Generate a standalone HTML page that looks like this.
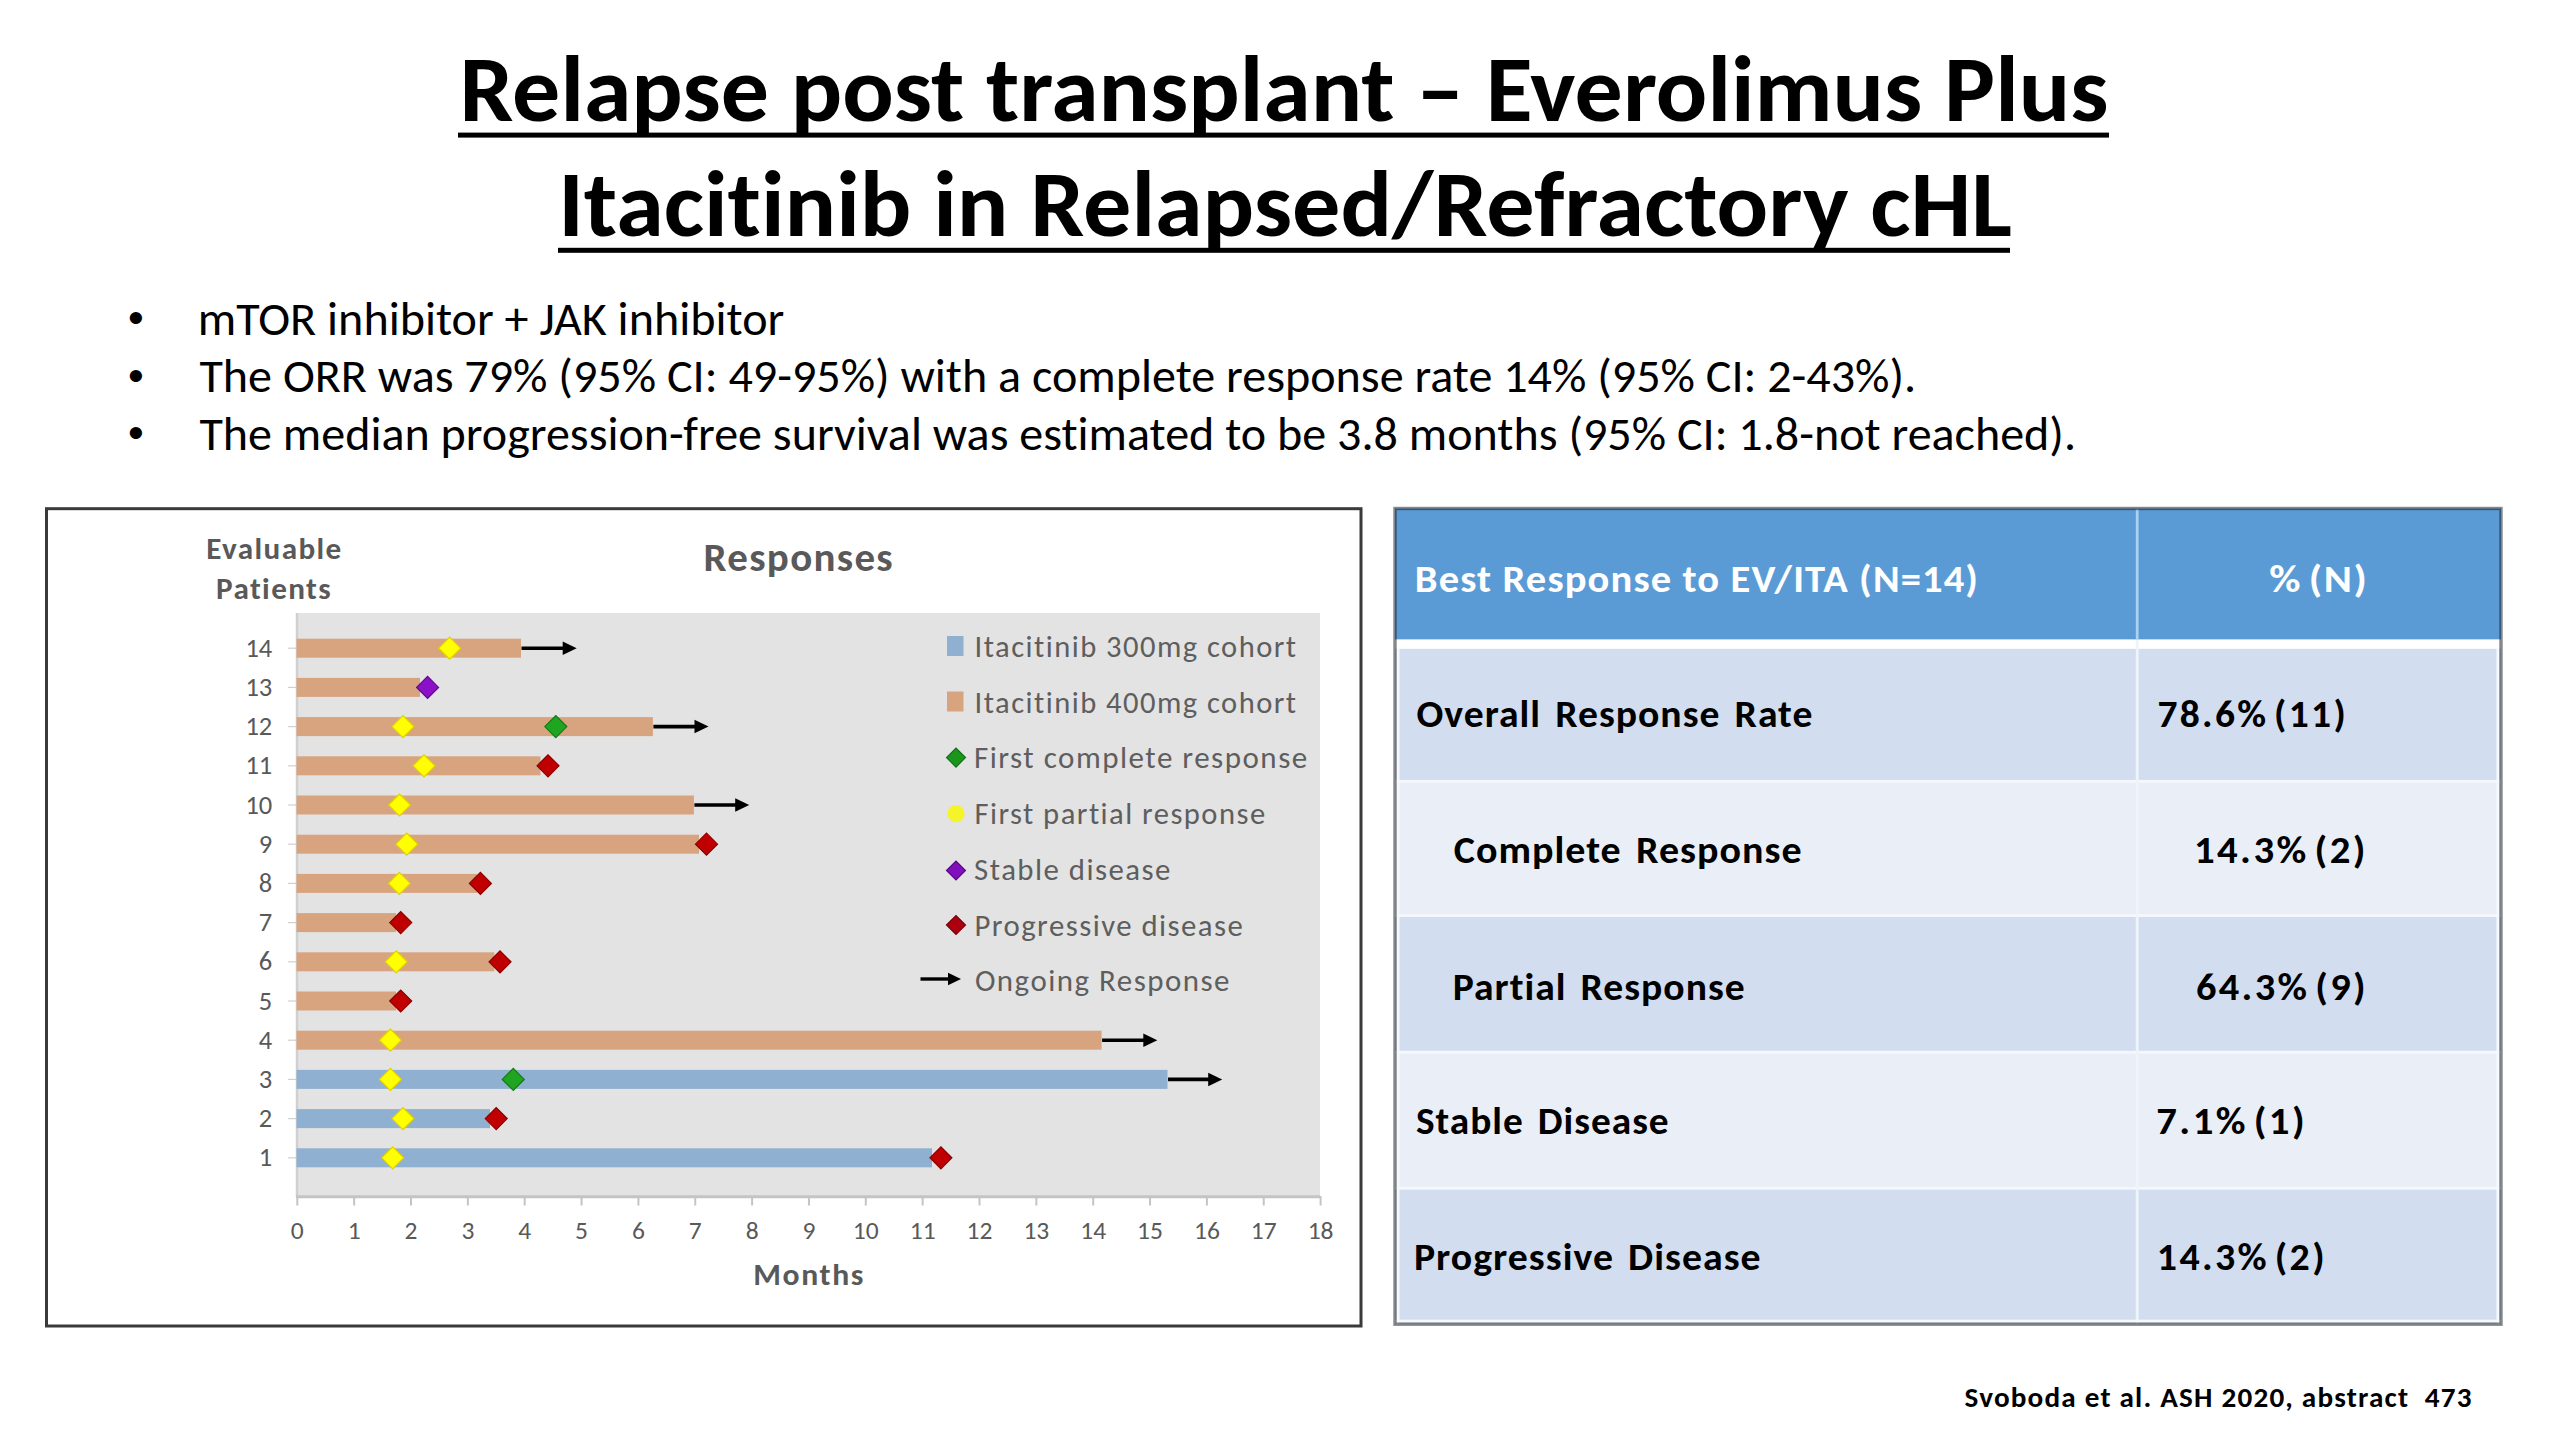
<!DOCTYPE html>
<html><head><meta charset="utf-8"><title>Relapse post transplant – Everolimus Plus Itacitinib</title>
<style>
html,body{margin:0;padding:0;background:#fff;}
body{width:100vw;height:100vh;min-width:2560px;min-height:1440px;overflow:hidden;}
svg{display:block;}
text{font-family:Carlito, 'Liberation Sans', Arial, sans-serif;font-variant-ligatures:none;font-feature-settings:'liga' 0,'clig' 0;white-space:pre;}
</style></head><body>
<svg width="2560" height="1440" viewBox="0 0 2560 1440" preserveAspectRatio="xMidYMid meet">
<rect x="0" y="0" width="2560" height="1440" fill="#fff"/>
<rect x="458.00" y="132.60" width="1651.00" height="5.00" fill="#000" />
<rect x="558.00" y="247.80" width="1452.00" height="5.00" fill="#000" />
<rect x="46.50" y="508.70" width="1314.50" height="817.30" fill="#fff" stroke="#3a3a3a" stroke-width="3"/>
<rect x="296.50" y="613.00" width="1023.50" height="584.00" fill="#e3e3e3" />
<line x1="297.00" y1="613.00" x2="297.00" y2="1197.00" stroke="#d0d0d0" stroke-width="2.5" />
<line x1="296.00" y1="1196.80" x2="1320.00" y2="1196.80" stroke="#c4c4c4" stroke-width="3" />
<line x1="297.30" y1="1196.00" x2="297.30" y2="1205.50" stroke="#c4c4c4" stroke-width="2" />
<line x1="354.15" y1="1196.00" x2="354.15" y2="1205.50" stroke="#c4c4c4" stroke-width="2" />
<line x1="411.00" y1="1196.00" x2="411.00" y2="1205.50" stroke="#c4c4c4" stroke-width="2" />
<line x1="467.85" y1="1196.00" x2="467.85" y2="1205.50" stroke="#c4c4c4" stroke-width="2" />
<line x1="524.70" y1="1196.00" x2="524.70" y2="1205.50" stroke="#c4c4c4" stroke-width="2" />
<line x1="581.55" y1="1196.00" x2="581.55" y2="1205.50" stroke="#c4c4c4" stroke-width="2" />
<line x1="638.40" y1="1196.00" x2="638.40" y2="1205.50" stroke="#c4c4c4" stroke-width="2" />
<line x1="695.25" y1="1196.00" x2="695.25" y2="1205.50" stroke="#c4c4c4" stroke-width="2" />
<line x1="752.10" y1="1196.00" x2="752.10" y2="1205.50" stroke="#c4c4c4" stroke-width="2" />
<line x1="808.95" y1="1196.00" x2="808.95" y2="1205.50" stroke="#c4c4c4" stroke-width="2" />
<line x1="865.80" y1="1196.00" x2="865.80" y2="1205.50" stroke="#c4c4c4" stroke-width="2" />
<line x1="922.65" y1="1196.00" x2="922.65" y2="1205.50" stroke="#c4c4c4" stroke-width="2" />
<line x1="979.50" y1="1196.00" x2="979.50" y2="1205.50" stroke="#c4c4c4" stroke-width="2" />
<line x1="1036.35" y1="1196.00" x2="1036.35" y2="1205.50" stroke="#c4c4c4" stroke-width="2" />
<line x1="1093.20" y1="1196.00" x2="1093.20" y2="1205.50" stroke="#c4c4c4" stroke-width="2" />
<line x1="1150.05" y1="1196.00" x2="1150.05" y2="1205.50" stroke="#c4c4c4" stroke-width="2" />
<line x1="1206.90" y1="1196.00" x2="1206.90" y2="1205.50" stroke="#c4c4c4" stroke-width="2" />
<line x1="1263.75" y1="1196.00" x2="1263.75" y2="1205.50" stroke="#c4c4c4" stroke-width="2" />
<line x1="1320.60" y1="1196.00" x2="1320.60" y2="1205.50" stroke="#c4c4c4" stroke-width="2" />
<line x1="288.00" y1="1157.80" x2="296.00" y2="1157.80" stroke="#d0d0d0" stroke-width="1.2" />
<line x1="288.00" y1="1118.60" x2="296.00" y2="1118.60" stroke="#d0d0d0" stroke-width="1.2" />
<line x1="288.00" y1="1079.40" x2="296.00" y2="1079.40" stroke="#d0d0d0" stroke-width="1.2" />
<line x1="288.00" y1="1040.20" x2="296.00" y2="1040.20" stroke="#d0d0d0" stroke-width="1.2" />
<line x1="288.00" y1="1001.00" x2="296.00" y2="1001.00" stroke="#d0d0d0" stroke-width="1.2" />
<line x1="288.00" y1="961.80" x2="296.00" y2="961.80" stroke="#d0d0d0" stroke-width="1.2" />
<line x1="288.00" y1="922.60" x2="296.00" y2="922.60" stroke="#d0d0d0" stroke-width="1.2" />
<line x1="288.00" y1="883.40" x2="296.00" y2="883.40" stroke="#d0d0d0" stroke-width="1.2" />
<line x1="288.00" y1="844.20" x2="296.00" y2="844.20" stroke="#d0d0d0" stroke-width="1.2" />
<line x1="288.00" y1="805.00" x2="296.00" y2="805.00" stroke="#d0d0d0" stroke-width="1.2" />
<line x1="288.00" y1="765.80" x2="296.00" y2="765.80" stroke="#d0d0d0" stroke-width="1.2" />
<line x1="288.00" y1="726.60" x2="296.00" y2="726.60" stroke="#d0d0d0" stroke-width="1.2" />
<line x1="288.00" y1="687.40" x2="296.00" y2="687.40" stroke="#d0d0d0" stroke-width="1.2" />
<line x1="288.00" y1="648.20" x2="296.00" y2="648.20" stroke="#d0d0d0" stroke-width="1.2" />
<rect x="296.50" y="638.70" width="224.50" height="19.00" fill="#d8a47f" />
<rect x="296.50" y="677.90" width="123.50" height="19.00" fill="#d8a47f" />
<rect x="296.50" y="717.10" width="356.40" height="19.00" fill="#d8a47f" />
<rect x="296.50" y="756.30" width="244.00" height="19.00" fill="#d8a47f" />
<rect x="296.50" y="795.50" width="397.40" height="19.00" fill="#d8a47f" />
<rect x="296.50" y="834.70" width="402.50" height="19.00" fill="#d8a47f" />
<rect x="296.50" y="873.90" width="180.50" height="19.00" fill="#d8a47f" />
<rect x="296.50" y="913.10" width="99.50" height="19.00" fill="#d8a47f" />
<rect x="296.50" y="952.30" width="197.90" height="19.00" fill="#d8a47f" />
<rect x="296.50" y="991.50" width="99.50" height="19.00" fill="#d8a47f" />
<rect x="296.50" y="1030.70" width="805.10" height="19.00" fill="#d8a47f" />
<rect x="296.50" y="1069.90" width="871.00" height="19.00" fill="#8fb0d0" />
<rect x="296.50" y="1109.10" width="193.50" height="19.00" fill="#8fb0d0" />
<rect x="296.50" y="1148.30" width="635.50" height="19.00" fill="#8fb0d0" />
<line x1="521.50" y1="648.20" x2="563.70" y2="648.20" stroke="#000" stroke-width="3.6"/>
<path d="M562.70 641.45L576.70 648.20L562.70 654.95Z" fill="#000"/>
<line x1="653.40" y1="726.60" x2="695.50" y2="726.60" stroke="#000" stroke-width="3.6"/>
<path d="M694.50 719.85L708.50 726.60L694.50 733.35Z" fill="#000"/>
<line x1="694.40" y1="805.00" x2="736.20" y2="805.00" stroke="#000" stroke-width="3.6"/>
<path d="M735.20 798.25L749.20 805.00L735.20 811.75Z" fill="#000"/>
<line x1="1102.10" y1="1040.20" x2="1144.30" y2="1040.20" stroke="#000" stroke-width="3.6"/>
<path d="M1143.30 1033.45L1157.30 1040.20L1143.30 1046.95Z" fill="#000"/>
<line x1="1168.00" y1="1079.40" x2="1209.20" y2="1079.40" stroke="#000" stroke-width="3.6"/>
<path d="M1208.20 1072.65L1222.20 1079.40L1208.20 1086.15Z" fill="#000"/>
<path d="M438.70 648.20L449.70 637.20L460.70 648.20L449.70 659.20Z" fill="#ffff00" stroke="#e0d000" stroke-width="1.2"/>
<path d="M416.60 687.40L427.60 676.40L438.60 687.40L427.60 698.40Z" fill="#8c10c8" stroke="#5e0a8c" stroke-width="1.2"/>
<path d="M391.90 726.60L402.90 715.60L413.90 726.60L402.90 737.60Z" fill="#ffff00" stroke="#e0d000" stroke-width="1.2"/>
<path d="M544.80 726.60L555.80 715.60L566.80 726.60L555.80 737.60Z" fill="#1fa51f" stroke="#147a14" stroke-width="1.2"/>
<path d="M413.00 765.80L424.00 754.80L435.00 765.80L424.00 776.80Z" fill="#ffff00" stroke="#e0d000" stroke-width="1.2"/>
<path d="M537.00 765.80L548.00 754.80L559.00 765.80L548.00 776.80Z" fill="#c00000" stroke="#8a0000" stroke-width="1.2"/>
<path d="M388.50 805.00L399.50 794.00L410.50 805.00L399.50 816.00Z" fill="#ffff00" stroke="#e0d000" stroke-width="1.2"/>
<path d="M395.75 844.20L406.75 833.20L417.75 844.20L406.75 855.20Z" fill="#ffff00" stroke="#e0d000" stroke-width="1.2"/>
<path d="M695.50 844.20L706.50 833.20L717.50 844.20L706.50 855.20Z" fill="#c00000" stroke="#8a0000" stroke-width="1.2"/>
<path d="M388.30 883.40L399.30 872.40L410.30 883.40L399.30 894.40Z" fill="#ffff00" stroke="#e0d000" stroke-width="1.2"/>
<path d="M469.40 883.40L480.40 872.40L491.40 883.40L480.40 894.40Z" fill="#c00000" stroke="#8a0000" stroke-width="1.2"/>
<path d="M389.70 922.60L400.70 911.60L411.70 922.60L400.70 933.60Z" fill="#c00000" stroke="#8a0000" stroke-width="1.2"/>
<path d="M385.20 961.80L396.20 950.80L407.20 961.80L396.20 972.80Z" fill="#ffff00" stroke="#e0d000" stroke-width="1.2"/>
<path d="M489.00 961.80L500.00 950.80L511.00 961.80L500.00 972.80Z" fill="#c00000" stroke="#8a0000" stroke-width="1.2"/>
<path d="M389.70 1001.00L400.70 990.00L411.70 1001.00L400.70 1012.00Z" fill="#c00000" stroke="#8a0000" stroke-width="1.2"/>
<path d="M379.40 1040.20L390.40 1029.20L401.40 1040.20L390.40 1051.20Z" fill="#ffff00" stroke="#e0d000" stroke-width="1.2"/>
<path d="M379.40 1079.40L390.40 1068.40L401.40 1079.40L390.40 1090.40Z" fill="#ffff00" stroke="#e0d000" stroke-width="1.2"/>
<path d="M502.30 1079.40L513.30 1068.40L524.30 1079.40L513.30 1090.40Z" fill="#1fa51f" stroke="#147a14" stroke-width="1.2"/>
<path d="M391.90 1118.60L402.90 1107.60L413.90 1118.60L402.90 1129.60Z" fill="#ffff00" stroke="#e0d000" stroke-width="1.2"/>
<path d="M485.20 1118.60L496.20 1107.60L507.20 1118.60L496.20 1129.60Z" fill="#c00000" stroke="#8a0000" stroke-width="1.2"/>
<path d="M381.70 1157.80L392.70 1146.80L403.70 1157.80L392.70 1168.80Z" fill="#ffff00" stroke="#e0d000" stroke-width="1.2"/>
<path d="M929.90 1157.80L940.90 1146.80L951.90 1157.80L940.90 1168.80Z" fill="#c00000" stroke="#8a0000" stroke-width="1.2"/>
<rect x="947.00" y="636.00" width="16.50" height="20.00" fill="#8fb0d0" />
<rect x="947.00" y="691.50" width="16.50" height="20.00" fill="#d8a47f" />
<path d="M946.50 757.60L956.00 748.10L965.50 757.60L956.00 767.10Z" fill="#1a961a" stroke="#12701a" stroke-width="1.2"/>
<circle cx="956" cy="813.6" r="8.6" fill="#f4f428"/>
<path d="M946.50 870.50L956.00 861.00L965.50 870.50L956.00 880.00Z" fill="#8010bc" stroke="#5a0a86" stroke-width="1.2"/>
<path d="M946.50 925.00L956.00 915.50L965.50 925.00L956.00 934.50Z" fill="#ac0010" stroke="#7a0008" stroke-width="1.2"/>
<line x1="920.50" y1="979.00" x2="949.00" y2="979.00" stroke="#000" stroke-width="3.4"/>
<path d="M948.00 972.75L961.00 979.00L948.00 985.25Z" fill="#000"/>
<rect x="1395.00" y="508.50" width="1106.00" height="131.10" fill="#5b9bd5" />
<rect x="1395.00" y="648.60" width="1106.00" height="132.70" fill="#d2deef" />
<rect x="1395.00" y="781.30" width="1106.00" height="134.30" fill="#eaeff7" />
<rect x="1395.00" y="915.60" width="1106.00" height="136.60" fill="#d2deef" />
<rect x="1395.00" y="1052.20" width="1106.00" height="136.10" fill="#eaeff7" />
<rect x="1395.00" y="1188.30" width="1106.00" height="135.90" fill="#d2deef" />
<rect x="1395.00" y="639.60" width="1106.00" height="9.00" fill="#fff" />
<rect x="1395.00" y="779.90" width="1106.00" height="2.80" fill="#f4f8fc" />
<rect x="1395.00" y="914.20" width="1106.00" height="2.80" fill="#f4f8fc" />
<rect x="1395.00" y="1050.80" width="1106.00" height="2.80" fill="#f4f8fc" />
<rect x="1395.00" y="1186.90" width="1106.00" height="2.80" fill="#f4f8fc" />
<rect x="2135.80" y="639.60" width="2.80" height="684.60" fill="#eef4fa" />
<rect x="2135.80" y="508.50" width="2.80" height="131.10" fill="#a8d2f0" />
<rect x="1396.50" y="648.60" width="3.00" height="675.60" fill="#f7fafd" />
<rect x="2496.50" y="648.60" width="3.00" height="675.60" fill="#f7fafd" />
<rect x="1395.00" y="1319.70" width="1106.00" height="3.00" fill="#f7fafd" />
<rect x="1395.00" y="508.50" width="1106.00" height="815.70" fill="none" stroke="rgba(20,26,36,0.52)" stroke-width="3.4"/>
<text x="128.1" y="332.90000000000003" font-size="45" style="font-family:'Liberation Sans', Arial, sans-serif">•</text><text x="128.1" y="390.6" font-size="45" style="font-family:'Liberation Sans', Arial, sans-serif">•</text><text x="128.1" y="448.1" font-size="45" style="font-family:'Liberation Sans', Arial, sans-serif">•</text>
<text xml:space="preserve" id="t-title1" x="459.5" y="120.5" font-size="94" font-weight="bold" fill="#000" textLength="1649.0" lengthAdjust="spacingAndGlyphs">Relapse post transplant – Everolimus Plus</text>
<text xml:space="preserve" id="t-title2" x="558.15" y="236.4" font-size="94" font-weight="bold" fill="#000" textLength="1453.75" lengthAdjust="spacingAndGlyphs">Itacitinib in Relapsed/Refractory cHL</text>
<text xml:space="preserve" id="t-bul1" x="197.8" y="334.6" font-size="47" fill="#000" textLength="586.45" lengthAdjust="spacingAndGlyphs">mTOR inhibitor + JAK inhibitor</text>
<text xml:space="preserve" id="t-bul2" x="199.4" y="392.3" font-size="47" fill="#000" textLength="1716.79" lengthAdjust="spacingAndGlyphs">The ORR was 79% (95% CI: 49-95%) with a complete response rate 14% (95% CI: 2-43%).</text>
<text xml:space="preserve" id="t-bul3" x="199.4" y="449.8" font-size="47" fill="#000" textLength="1876.65" lengthAdjust="spacingAndGlyphs">The median progression-free survival was estimated to be 3.8 months (95% CI: 1.8-not reached).</text>
<text xml:space="preserve" id="t-Evaluable" x="206.3" y="558.5" font-size="31" font-weight="bold" fill="#595959" textLength="136.35" lengthAdjust="spacingAndGlyphs" style="letter-spacing:1.4px;word-spacing:0px">Evaluable</text>
<text xml:space="preserve" id="t-Patients" x="216.0" y="598.7" font-size="31" font-weight="bold" fill="#595959" textLength="116.14" lengthAdjust="spacingAndGlyphs" style="letter-spacing:1.4px;word-spacing:0px">Patients</text>
<text xml:space="preserve" id="t-Responses" x="703.5" y="570.6" font-size="41" font-weight="bold" fill="#595959" textLength="190.48" lengthAdjust="spacingAndGlyphs" style="letter-spacing:1.3px;word-spacing:0px">Responses</text>
<text xml:space="preserve" id="t-Months" x="753.2" y="1284.6" font-size="30.8" font-weight="bold" fill="#595959" textLength="111.88" lengthAdjust="spacingAndGlyphs" style="letter-spacing:1.6px;word-spacing:0px">Months</text>
<text xml:space="preserve" x="297.3" y="1239.3" font-size="25.5" fill="#595959" text-anchor="middle">0</text>
<text xml:space="preserve" x="354.15000000000003" y="1239.3" font-size="25.5" fill="#595959" text-anchor="middle">1</text>
<text xml:space="preserve" x="411.0" y="1239.3" font-size="25.5" fill="#595959" text-anchor="middle">2</text>
<text xml:space="preserve" x="467.85" y="1239.3" font-size="25.5" fill="#595959" text-anchor="middle">3</text>
<text xml:space="preserve" x="524.7" y="1239.3" font-size="25.5" fill="#595959" text-anchor="middle">4</text>
<text xml:space="preserve" x="581.55" y="1239.3" font-size="25.5" fill="#595959" text-anchor="middle">5</text>
<text xml:space="preserve" x="638.4000000000001" y="1239.3" font-size="25.5" fill="#595959" text-anchor="middle">6</text>
<text xml:space="preserve" x="695.25" y="1239.3" font-size="25.5" fill="#595959" text-anchor="middle">7</text>
<text xml:space="preserve" x="752.1" y="1239.3" font-size="25.5" fill="#595959" text-anchor="middle">8</text>
<text xml:space="preserve" x="808.95" y="1239.3" font-size="25.5" fill="#595959" text-anchor="middle">9</text>
<text xml:space="preserve" x="865.8" y="1239.3" font-size="25.5" fill="#595959" text-anchor="middle">10</text>
<text xml:space="preserve" x="922.6500000000001" y="1239.3" font-size="25.5" fill="#595959" text-anchor="middle">11</text>
<text xml:space="preserve" x="979.5" y="1239.3" font-size="25.5" fill="#595959" text-anchor="middle">12</text>
<text xml:space="preserve" x="1036.3500000000001" y="1239.3" font-size="25.5" fill="#595959" text-anchor="middle">13</text>
<text xml:space="preserve" x="1093.2" y="1239.3" font-size="25.5" fill="#595959" text-anchor="middle">14</text>
<text xml:space="preserve" x="1150.05" y="1239.3" font-size="25.5" fill="#595959" text-anchor="middle">15</text>
<text xml:space="preserve" x="1206.9" y="1239.3" font-size="25.5" fill="#595959" text-anchor="middle">16</text>
<text xml:space="preserve" x="1263.75" y="1239.3" font-size="25.5" fill="#595959" text-anchor="middle">17</text>
<text xml:space="preserve" x="1320.6000000000001" y="1239.3" font-size="25.5" fill="#595959" text-anchor="middle">18</text>
<text xml:space="preserve" x="272.3" y="1166.3999999999999" font-size="26.5" fill="#595959" text-anchor="end">1</text>
<text xml:space="preserve" x="272.3" y="1127.1999999999998" font-size="26.5" fill="#595959" text-anchor="end">2</text>
<text xml:space="preserve" x="272.3" y="1087.9999999999998" font-size="26.5" fill="#595959" text-anchor="end">3</text>
<text xml:space="preserve" x="272.3" y="1048.8" font-size="26.5" fill="#595959" text-anchor="end">4</text>
<text xml:space="preserve" x="272.3" y="1009.6" font-size="26.5" fill="#595959" text-anchor="end">5</text>
<text xml:space="preserve" x="272.3" y="970.4" font-size="26.5" fill="#595959" text-anchor="end">6</text>
<text xml:space="preserve" x="272.3" y="931.1999999999999" font-size="26.5" fill="#595959" text-anchor="end">7</text>
<text xml:space="preserve" x="272.3" y="891.9999999999999" font-size="26.5" fill="#595959" text-anchor="end">8</text>
<text xml:space="preserve" x="272.3" y="852.8" font-size="26.5" fill="#595959" text-anchor="end">9</text>
<text xml:space="preserve" x="272.3" y="813.6" font-size="26.5" fill="#595959" text-anchor="end">10</text>
<text xml:space="preserve" x="272.3" y="774.4" font-size="26.5" fill="#595959" text-anchor="end">11</text>
<text xml:space="preserve" x="272.3" y="735.1999999999999" font-size="26.5" fill="#595959" text-anchor="end">12</text>
<text xml:space="preserve" x="272.3" y="695.9999999999999" font-size="26.5" fill="#595959" text-anchor="end">13</text>
<text xml:space="preserve" x="272.3" y="656.8" font-size="26.5" fill="#595959" text-anchor="end">14</text>
<text xml:space="preserve" id="t-leg1" x="974.6" y="657.0" font-size="30.5" fill="#5e5e5e" textLength="322.98" lengthAdjust="spacingAndGlyphs" style="letter-spacing:1.45px;word-spacing:0px">Itacitinib 300mg cohort</text>
<text xml:space="preserve" id="t-leg2" x="974.6" y="712.5" font-size="30.5" fill="#5e5e5e" textLength="322.98" lengthAdjust="spacingAndGlyphs" style="letter-spacing:1.45px;word-spacing:0px">Itacitinib 400mg cohort</text>
<text xml:space="preserve" id="t-leg3" x="974.0" y="768.0" font-size="30.5" fill="#5e5e5e" textLength="334.69" lengthAdjust="spacingAndGlyphs" style="letter-spacing:1.45px;word-spacing:0px">First complete response</text>
<text xml:space="preserve" id="t-leg4" x="974.4" y="823.6" font-size="30.5" fill="#5e5e5e" textLength="292.19" lengthAdjust="spacingAndGlyphs" style="letter-spacing:1.45px;word-spacing:0px">First partial response</text>
<text xml:space="preserve" id="t-leg5" x="974.1" y="879.8" font-size="30.5" fill="#5e5e5e" textLength="197.82" lengthAdjust="spacingAndGlyphs" style="letter-spacing:1.45px;word-spacing:0px">Stable disease</text>
<text xml:space="preserve" id="t-leg6" x="974.4" y="936.1" font-size="30.5" fill="#5e5e5e" textLength="269.96" lengthAdjust="spacingAndGlyphs" style="letter-spacing:1.45px;word-spacing:0px">Progressive disease</text>
<text xml:space="preserve" id="t-leg7" x="974.9" y="990.8" font-size="30.5" fill="#5e5e5e" textLength="256.1" lengthAdjust="spacingAndGlyphs" style="letter-spacing:1.45px;word-spacing:0px">Ongoing Response</text>
<text xml:space="preserve" id="t-hdr1" x="1414.8" y="591.6" font-size="39" font-weight="bold" fill="#fff" textLength="564.34" lengthAdjust="spacingAndGlyphs" style="letter-spacing:1.1px;word-spacing:0px">Best Response to EV/ITA (N=14)</text>
<text xml:space="preserve" id="t-hdr2" x="2269.3" y="591.6" font-size="39" font-weight="bold" fill="#fff" textLength="99.05" lengthAdjust="spacingAndGlyphs" style="letter-spacing:1.4px;word-spacing:-4px">% (N)</text>
<text xml:space="preserve" id="t-r1a" x="1416.5" y="726.5" font-size="39" font-weight="bold" fill="#000" textLength="396.87" lengthAdjust="spacingAndGlyphs" style="letter-spacing:1.0px;word-spacing:4.0px">Overall Response Rate</text>
<text xml:space="preserve" id="t-r1b" x="2157.4" y="726.5" font-size="39" font-weight="bold" fill="#000" textLength="190.65" lengthAdjust="spacingAndGlyphs" style="letter-spacing:2.3px;word-spacing:-5.5px">78.6% (11)</text>
<text xml:space="preserve" id="t-r2a" x="1453.7" y="862.7" font-size="39" font-weight="bold" fill="#000" textLength="349.0" lengthAdjust="spacingAndGlyphs" style="letter-spacing:1.0px;word-spacing:4.0px">Complete Response</text>
<text xml:space="preserve" id="t-r2b" x="2193.9" y="862.7" font-size="39" font-weight="bold" fill="#000" textLength="174.03" lengthAdjust="spacingAndGlyphs" style="letter-spacing:2.3px;word-spacing:-5.5px">14.3% (2)</text>
<text xml:space="preserve" id="t-r3a" x="1452.7" y="999.5" font-size="39" font-weight="bold" fill="#000" textLength="293.0" lengthAdjust="spacingAndGlyphs" style="letter-spacing:1.0px;word-spacing:4.0px">Partial Response</text>
<text xml:space="preserve" id="t-r3b" x="2195.9" y="999.5" font-size="39" font-weight="bold" fill="#000" textLength="172.03" lengthAdjust="spacingAndGlyphs" style="letter-spacing:2.3px;word-spacing:-5.5px">64.3% (9)</text>
<text xml:space="preserve" id="t-r4a" x="1415.9" y="1133.8" font-size="39" font-weight="bold" fill="#000" textLength="253.79" lengthAdjust="spacingAndGlyphs" style="letter-spacing:1.0px;word-spacing:4.0px">Stable Disease</text>
<text xml:space="preserve" id="t-r4b" x="2156.3" y="1133.8" font-size="39" font-weight="bold" fill="#000" textLength="150.77" lengthAdjust="spacingAndGlyphs" style="letter-spacing:2.3px;word-spacing:-5.5px">7.1% (1)</text>
<text xml:space="preserve" id="t-r5a" x="1413.9" y="1269.7" font-size="39" font-weight="bold" fill="#000" textLength="347.7" lengthAdjust="spacingAndGlyphs" style="letter-spacing:1.0px;word-spacing:4.0px">Progressive Disease</text>
<text xml:space="preserve" id="t-r5b" x="2156.8" y="1269.7" font-size="39" font-weight="bold" fill="#000" textLength="170.13" lengthAdjust="spacingAndGlyphs" style="letter-spacing:2.3px;word-spacing:-5.5px">14.3% (2)</text>
<text xml:space="preserve" id="t-cite" x="1964.5" y="1407" font-size="29" font-weight="bold" fill="#000" textLength="508.23" lengthAdjust="spacingAndGlyphs" style="letter-spacing:1.2px;word-spacing:0px">Svoboda et al. ASH 2020, abstract  473</text>
</svg>
</body></html>
